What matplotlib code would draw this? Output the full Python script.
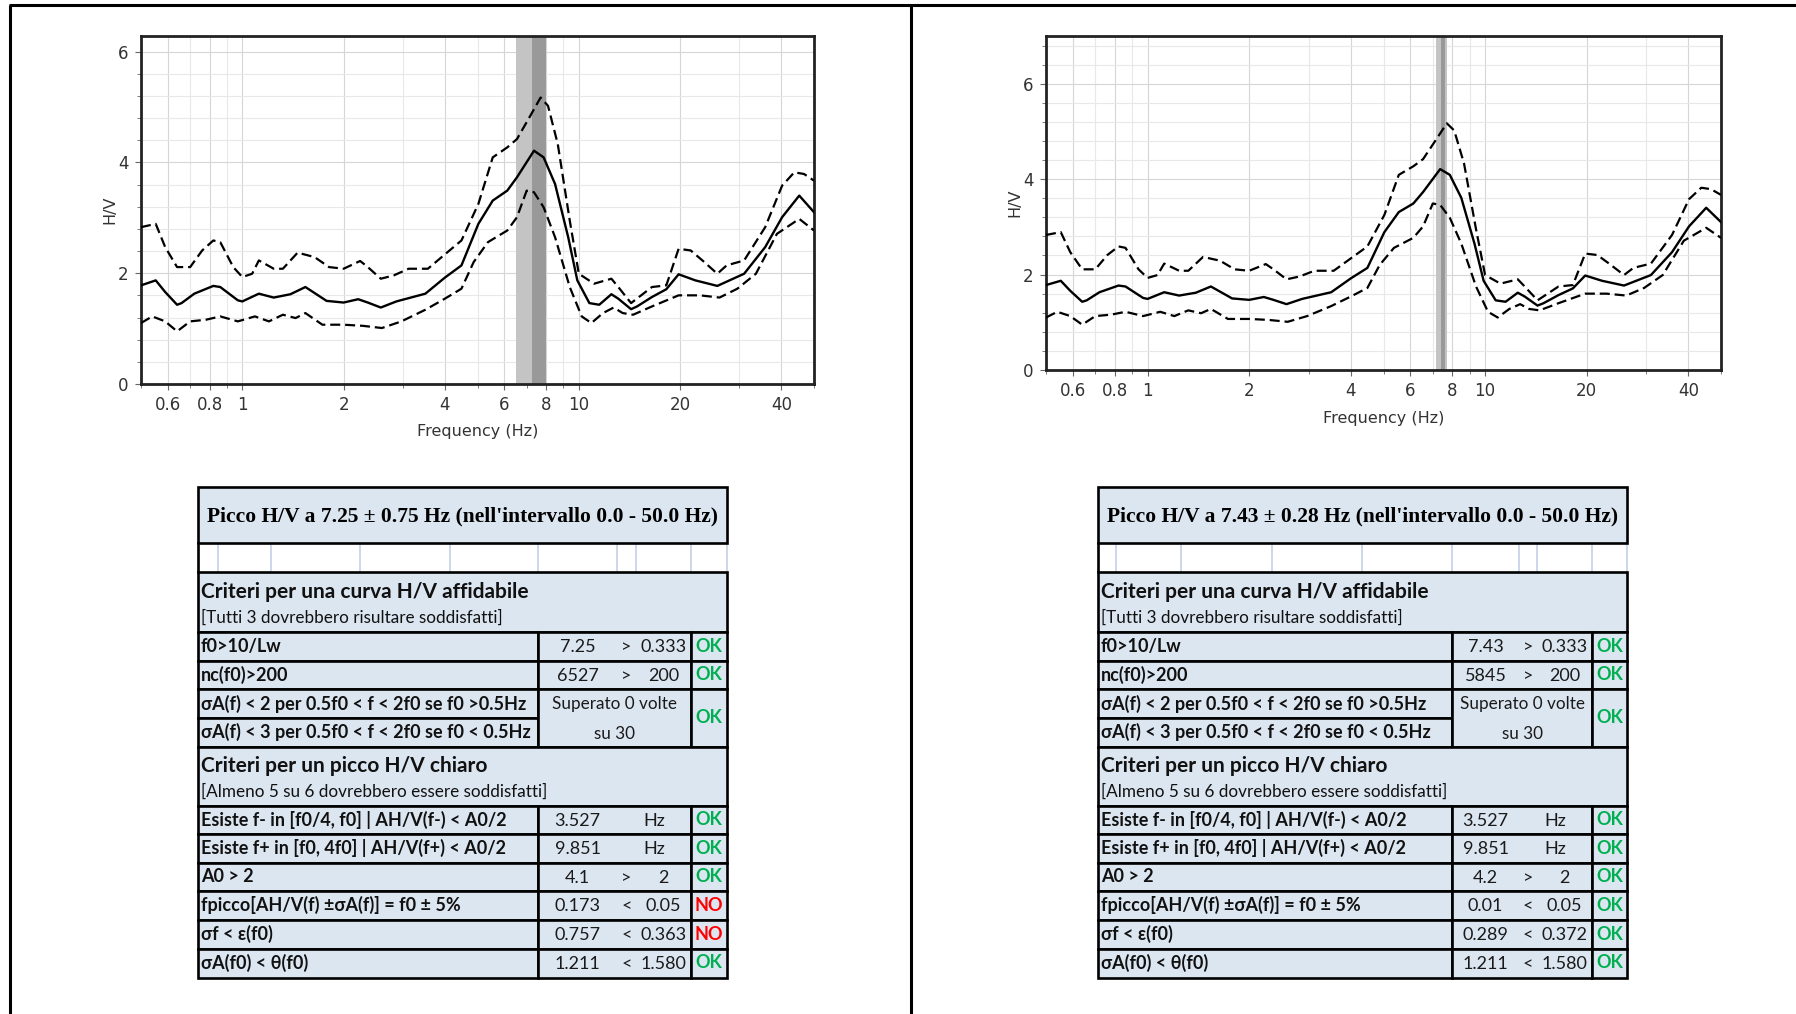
import numpy as np
import matplotlib
matplotlib.use('Agg')
import matplotlib.pyplot as plt
import matplotlib.ticker as ticker
from matplotlib.patches import Rectangle

# ---------------------------------------------------------------- data
# H/V curves (same shape in both panels), frequency in Hz
mean_f  = [0.50, 0.553, 0.59, 0.64, 0.66, 0.72, 0.82, 0.86, 0.97, 1.0, 1.12, 1.24,
           1.39, 1.54, 1.78, 2.0, 2.21, 2.36, 2.58, 2.87, 3.5, 4.0, 4.48, 5.03,
           5.55, 6.13, 6.55, 7.36, 7.86, 8.5, 9.3, 9.9, 10.75, 11.5, 12.5, 13.1,
           14.3, 14.9, 16.5, 18.2, 19.8, 22.2, 25.8, 31.0, 35.8, 40.2, 45.2, 50.0]
mean_hv = [1.78, 1.87, 1.66, 1.43, 1.46, 1.63, 1.77, 1.75, 1.51, 1.49, 1.63, 1.56,
           1.62, 1.75, 1.50, 1.47, 1.53, 1.47, 1.38, 1.49, 1.63, 1.92, 2.14, 2.89,
           3.31, 3.49, 3.73, 4.21, 4.09, 3.61, 2.65, 1.87, 1.46, 1.43, 1.62, 1.54,
           1.35, 1.40, 1.57, 1.71, 1.98, 1.87, 1.77, 1.99, 2.47, 3.01, 3.40, 3.10]

upper_f  = [0.50, 0.553, 0.59, 0.64, 0.70, 0.76, 0.82, 0.86, 0.94, 1.0, 1.07, 1.12,
            1.24, 1.32, 1.46, 1.64, 1.81, 2.0, 2.24, 2.36, 2.58, 2.82, 3.12, 3.56,
            4.13, 4.48, 5.03, 5.55, 6.13, 6.55, 7.13, 7.7, 8.1, 8.66, 9.4, 10.0,
            11.1, 12.5, 13.1, 14.3, 16.5, 18.2, 19.8, 21.5, 23.3, 25.8, 27.5, 31.0,
            35.8, 40.2, 43.7, 46.7, 50.0]
upper_hv = [2.83, 2.89, 2.47, 2.11, 2.11, 2.41, 2.59, 2.56, 2.11, 1.93, 1.99, 2.23,
            2.08, 2.08, 2.37, 2.29, 2.11, 2.08, 2.22, 2.11, 1.90, 1.96, 2.08, 2.08,
            2.41, 2.59, 3.25, 4.09, 4.27, 4.42, 4.81, 5.17, 5.02, 4.33, 2.95, 1.99,
            1.81, 1.90, 1.75, 1.46, 1.75, 1.78, 2.44, 2.41, 2.23, 1.99, 2.14, 2.23,
            2.83, 3.58, 3.82, 3.79, 3.67]

lower_f  = [0.50, 0.54, 0.59, 0.64, 0.70, 0.78, 0.86, 0.97, 1.09, 1.2, 1.32, 1.44,
            1.54, 1.73, 2.0, 2.28, 2.6, 2.97, 3.5, 4.0, 4.48, 4.87, 5.37, 6.13,
            6.55, 7.0, 7.36, 7.86, 8.5, 9.4, 10.2, 10.9, 11.8, 12.7, 13.5, 14.5,
            16.5, 19.8, 22.9, 26.2, 29.6, 33.6, 38.8, 45.2, 50.0]
lower_hv = [1.10, 1.22, 1.13, 0.95, 1.13, 1.16, 1.22, 1.13, 1.22, 1.13, 1.25, 1.19,
            1.28, 1.07, 1.07, 1.05, 1.01, 1.13, 1.34, 1.54, 1.72, 2.20, 2.56, 2.77,
            3.01, 3.49, 3.46, 3.19, 2.65, 1.75, 1.22, 1.10, 1.28, 1.38, 1.28, 1.25,
            1.40, 1.60, 1.60, 1.56, 1.72, 1.99, 2.71, 2.98, 2.77]

# peak bands (lo, hi) per panel: light band and dark band
left_bands  = [(6.50, 7.25), (7.25, 8.00)]
right_bands = [(7.15, 7.71), (7.38, 7.60)]
left_ymax, right_ymax = 6.28, 7.0

xtick_vals = [0.6, 0.8, 1, 2, 4, 6, 8, 10, 20, 40]
xtick_labels = ['0.6', '0.8', '1', '2', '4', '6', '8', '10', '20', '40']

# tables
titles = ["Picco H/V a 7.25 \u00b1 0.75 Hz (nell'intervallo 0.0 - 50.0 Hz)",
          "Picco H/V a 7.43 \u00b1 0.28 Hz (nell'intervallo 0.0 - 50.0 Hz)"]
sec1_title = "Criteri per una curva H/V affidabile"
sec1_note = "[Tutti 3 dovrebbero risultare soddisfatti]"
sec2_title = "Criteri per un picco H/V chiaro"
sec2_note = "[Almeno 5 su 6 dovrebbero essere soddisfatti]"
crit1_labels = ["f0>10/Lw", "nc(f0)>200",
                "\u03c3A(f) < 2 per 0.5f0 < f < 2f0 se f0 >0.5Hz",
                "\u03c3A(f) < 3 per 0.5f0 < f < 2f0 se f0 < 0.5Hz"]
sigma_text = ["Superato 0 volte", "su 30"]
crit2_labels = ["Esiste f- in [f0/4, f0] | AH/V(f-) < A0/2",
                "Esiste f+ in [f0, 4f0] | AH/V(f+) < A0/2",
                "A0 > 2",
                "fpicco[AH/V(f) \u00b1\u03c3A(f)] = f0 \u00b1 5%",
                "\u03c3f < \u03b5(f0)",
                "\u03c3A(f0) < \u03b8(f0)"]
left_vals1  = [["7.25", ">", "0.333"], ["6527", ">", "200"]]
right_vals1 = [["7.43", ">", "0.333"], ["5845", ">", "200"]]
left_vals2  = [["3.527", "Hz"], ["9.851", "Hz"], ["4.1", ">", "2"],
               ["0.173", "<", "0.05"], ["0.757", "<", "0.363"], ["1.211", "<", "1.580"]]
right_vals2 = [["3.527", "Hz"], ["9.851", "Hz"], ["4.2", ">", "2"],
               ["0.01", "<", "0.05"], ["0.289", "<", "0.372"], ["1.211", "<", "1.580"]]
left_res1,  right_res1 = ["OK", "OK", "OK"], ["OK", "OK", "OK"]
left_res2  = ["OK", "OK", "OK", "NO", "NO", "OK"]
right_res2 = ["OK", "OK", "OK", "OK", "OK", "OK"]

# ---------------------------------------------------------------- figure
W, H = 1796, 1014
fig = plt.figure(figsize=(W / 100, H / 100), dpi=100)
bg = fig.add_axes([0, 0, 1, 1])
bg.set_xlim(0, W)
bg.set_ylim(H, 0)
bg.axis('off')

# page frame
for xs, ys in [([9, W], [5, 5]), ([10, 10], [5, H]), ([911, 911], [5, H])]:
    bg.plot(xs, ys, color='black', lw=2.2, solid_capstyle='butt')

tick_color = '#333333'


def draw_chart(px, ymax, bands):
    x0, y0, x1, y1 = px
    ax = fig.add_axes([x0 / W, 1 - y1 / H, (x1 - x0) / W, (y1 - y0) / H])
    ax.set_xscale('log')
    ax.set_xlim(0.5, 50)
    ax.set_ylim(0, ymax)
    ax.axvspan(*bands[0], color='#c4c4c4', lw=0, zorder=2)
    ax.axvspan(*bands[1], color='#999999', lw=0, zorder=2)
    ax.plot(mean_f, mean_hv, color='black', lw=1.7, zorder=4)
    ax.plot(upper_f, upper_hv, color='black', lw=1.6, dashes=(4.5, 2.2), zorder=4)
    ax.plot(lower_f, lower_hv, color='black', lw=1.6, dashes=(4.5, 2.2), zorder=4)

    ax.xaxis.set_major_locator(ticker.FixedLocator(xtick_vals))
    ax.xaxis.set_major_formatter(ticker.FixedFormatter(xtick_labels))
    ax.xaxis.set_minor_locator(ticker.LogLocator(base=10, subs=np.arange(1, 10)))
    ax.xaxis.set_minor_formatter(ticker.NullFormatter())
    ax.yaxis.set_major_locator(ticker.MultipleLocator(2))
    ax.yaxis.set_minor_locator(ticker.MultipleLocator(0.4))
    ax.grid(which='major', color='#d6d6d6', lw=0.8, zorder=0)
    ax.grid(which='minor', color='#e8e8e8', lw=0.8, zorder=0)
    ax.set_axisbelow(True)

    ax.tick_params(which='both', direction='out', color='#666666', labelsize=12,
                   labelcolor=tick_color, top=False, right=False)
    ax.tick_params(which='major', length=4, pad=5)
    ax.tick_params(which='minor', length=3)
    for s in ax.spines.values():
        s.set_linewidth(2)
        s.set_color('#222222')

    ax.set_xlabel('Frequency (Hz)', fontsize=11.5, color=tick_color, va='center')
    ax.xaxis.set_label_coords(0.5, -48 / (y1 - y0))
    ax.set_ylabel('H/V', fontsize=11.5, color=tick_color, va='center')
    ax.yaxis.set_label_coords(-31 / (x1 - x0), 0.5)
    return ax


draw_chart((141, 36, 814, 384), left_ymax, left_bands)
draw_chart((1046, 36, 1721, 370), right_ymax, right_bands)

# ---------------------------------------------------------------- tables
fill = '#dce6f1'
sep_color = '#c3d2e6'
lw = 1.9
sans = ['Lato', 'DejaVu Sans']
serif = ['Liberation Serif', 'DejaVu Serif']
txt_color = '#111111'

Y_TITLE = (487, 543)
Y_BLANK = (543, 572)
Y_SEC1 = (572, 632)
ROWS1 = [632, 660.5, 689, 718, 746.5]
Y_SEC2 = (746.5, 805.5)
ROWS2 = [805.5, 834, 862.5, 891, 919.5, 948.5, 977.5]


def box(x0, y0, x1, y1, face=fill):
    bg.add_patch(Rectangle((x0, y0), x1 - x0, y1 - y0, facecolor=face,
                           edgecolor='black', lw=lw, zorder=2))


def result(x0, x1, y, txt):
    bg.text((x0 + x1) / 2, y, txt, ha='center', va='center', fontsize=13,
            fontweight='bold', family=sans,
            color='#00b050' if txt == 'OK' else '#ff0000', zorder=3)


def values(cols, y, vals):
    L, lab, num, op, val, R = cols
    kw = dict(va='center', ha='center', fontsize=13, family=sans, color='#1a1a1a', zorder=3)
    bg.text((lab + num) / 2, y, vals[0], **kw)
    if len(vals) == 2:
        bg.text((num + val) / 2, y, vals[1], **kw)
    else:
        bg.text((num + op) / 2, y, vals[1], **kw)
        bg.text((op + val) / 2, y, vals[2], **kw)


def draw_table(cols, seps, title, vals1, res1, vals2, res2):
    L, lab, num, op, val, R = cols
    lab_kw = dict(ha='left', va='center', fontsize=13, fontweight='bold',
                  family=sans, color=txt_color, zorder=3)

    box(L, Y_TITLE[0], R, Y_TITLE[1])
    bg.text((L + R) / 2, (Y_TITLE[0] + Y_TITLE[1]) / 2 + 1, title, ha='center',
            va='center', fontsize=15.5, fontweight='bold', family=serif, zorder=3)

    # empty spacer row with light cell separators
    for sx in seps:
        bg.plot([sx, sx], Y_BLANK, color=sep_color, lw=1.2, zorder=1)
    bg.plot([L, L], Y_BLANK, color='black', lw=lw, zorder=2)

    # first block
    box(L, Y_SEC1[0], R, Y_SEC1[1])
    bg.text(L + 3, Y_SEC1[0] + 20, sec1_title, ha='left', va='center', fontsize=15,
            fontweight='bold', family=sans, color=txt_color, zorder=3)
    bg.text(L + 3, Y_SEC1[0] + 46, sec1_note, ha='left', va='center', fontsize=12.3,
            family=sans, color=txt_color, zorder=3)
    for i in range(4):
        y0, y1 = ROWS1[i], ROWS1[i + 1]
        yc = (y0 + y1) / 2
        box(L, y0, lab, y1)
        bg.text(L + 3, yc, crit1_labels[i], **lab_kw)
        if i < 2:
            box(lab, y0, val, y1)
            box(val, y0, R, y1)
            values(cols, yc + 1, vals1[i])
            result(val, R, yc, res1[i])
    y0, y1 = ROWS1[2], ROWS1[4]
    box(lab, y0, val, y1)
    box(val, y0, R, y1)
    bg.text((lab + val) / 2, ROWS1[2] + 15, sigma_text[0], ha='center', va='center',
            fontsize=12.3, family=sans, color='#1a1a1a', zorder=3)
    bg.text((lab + val) / 2, ROWS1[3] + 16, sigma_text[1], ha='center', va='center',
            fontsize=12.3, family=sans, color='#1a1a1a', zorder=3)
    result(val, R, (y0 + y1) / 2, res1[2])

    # second block
    box(L, Y_SEC2[0], R, Y_SEC2[1])
    bg.text(L + 3, Y_SEC2[0] + 19, sec2_title, ha='left', va='center', fontsize=15,
            fontweight='bold', family=sans, color=txt_color, zorder=3)
    bg.text(L + 3, Y_SEC2[0] + 45, sec2_note, ha='left', va='center', fontsize=12.3,
            family=sans, color=txt_color, zorder=3)
    for i in range(6):
        y0, y1 = ROWS2[i], ROWS2[i + 1]
        yc = (y0 + y1) / 2
        box(L, y0, lab, y1)
        box(lab, y0, val, y1)
        box(val, y0, R, y1)
        bg.text(L + 3, yc, crit2_labels[i], **lab_kw)
        values(cols, yc + 1, vals2[i])
        result(val, R, yc, res2[i])


draw_table((198, 538, 617, 636, 691, 727),
           [218, 271, 360, 450, 538, 617, 636, 691, 727],
           titles[0], left_vals1, left_res1, left_vals2, left_res2)
draw_table((1098, 1452, 1519, 1537, 1592, 1627),
           [1116, 1181, 1272, 1362, 1452, 1519, 1537, 1592, 1627],
           titles[1], right_vals1, right_res1, right_vals2, right_res2)

fig.savefig('out.png', dpi=100)
